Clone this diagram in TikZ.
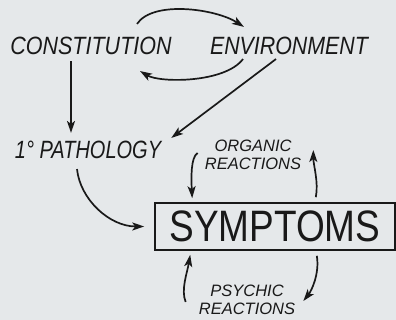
\documentclass[tikz,border=0pt]{standalone}
\usepackage{fontspec}
\setmainfont{Liberation Sans}
\usepackage{graphicx}
\usetikzlibrary{arrows.meta}
\definecolor{bg}{RGB}{229,232,234}
\definecolor{ink}{RGB}{25,25,25}
\begin{document}
\begin{tikzpicture}[x=1pt,y=1pt,
  conn/.style={draw=ink, line width=1.7pt, -{Stealth[length=12pt,width=8pt,inset=3pt]}},
  hw/.style={inner sep=0pt, text=ink, font=\itshape\fontsize{25}{25}\selectfont},
  small/.style={inner sep=0pt, text=ink, align=center, font=\itshape\fontsize{16.5}{18}\selectfont},
  box/.style={draw=ink, line width=1.6pt, inner sep=0pt, minimum width=240pt, minimum height=47pt, text=ink, font=\fontsize{44}{44}\selectfont}]
\fill[bg] (0,0) rectangle (396,320);
\useasboundingbox (0,0) rectangle (396,320);

\node[hw] (con) at (91,274) {\scalebox{0.86}[1]{CONSTITUTION}};
\node[hw] (env) at (289,274) {\scalebox{0.855}[1]{ENVIRONMENT}};
\node[hw] (path) at (88,170) {\scalebox{0.8}[1]{1° PATHOLOGY}};
\node[box] (sym) at (275,93.5) {\scalebox{0.84}[1]{SYMPTOMS}};
\node[small] (org) at (253,165) {ORGANIC\\REACTIONS};
\node[small] (psy) at (247,20) {PSYCHIC\\REACTIONS};

\draw[conn] ([shift={(46,13)}]con.north) .. controls +(16,24) and +(-28,18) .. ([shift={(-45,10)}]env.north);
\draw[conn] ([shift={(-46,-4)}]env.south) .. controls +(-18,-24) and +(20,-12) .. ([shift={(49,-16)}]con.south);
\draw[conn] ([shift={(-20,-6)}]con.south) -- ([shift={(-17,8)}]path.north);
\draw[conn] ([shift={(-13,-4)}]env.south) -- ([shift={(10,3)}]path.north east);
\draw[conn] ([shift={(-11,-10)}]path.south) .. controls +(3,-30) and +(-35,0) .. ([xshift=-10]sym.west);
\draw[conn] ([shift={(-7,2)}]org.west) .. controls +(-7,-4) and +(-1,20) .. ([shift={(38,4)}]sym.north west);
\draw[conn] ([shift={(-80,5)}]sym.north east) .. controls +(3,15) and +(0,-15) .. ([shift={(12,5)}]org.east);
\draw[conn] ([shift={(-13,-2)}]psy.west) .. controls +(-5,12) and +(-3,-18) .. ([shift={(36,-4)}]sym.south west);
\draw[conn] ([shift={(-79,-5)}]sym.south east) .. controls +(3,-18) and +(8,10) .. ([shift={(8,-1)}]psy.east);
\end{tikzpicture}
\end{document}
